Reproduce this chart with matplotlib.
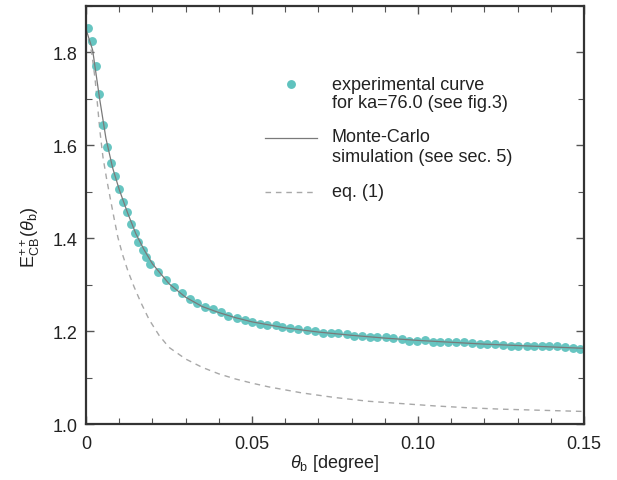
import matplotlib
matplotlib.use("Agg")
import matplotlib.pyplot as plt
from matplotlib.ticker import MultipleLocator

plt.rcParams['font.family'] = ['Liberation Sans', 'DejaVu Sans']
plt.rcParams['mathtext.fontset'] = 'custom'
plt.rcParams['mathtext.rm'] = 'Liberation Sans'
plt.rcParams['mathtext.it'] = 'Liberation Sans:italic'

# experimental curve (ka = 76.0)
exp_x = [0.0006, 0.0018, 0.0029, 0.0039, 0.0052, 0.0063, 0.0075, 0.0088, 0.0099, 0.0112,
         0.0123, 0.0137, 0.0147, 0.0157, 0.0172, 0.0182, 0.0193, 0.0217, 0.0242, 0.0265,
         0.0288, 0.0312, 0.0335, 0.0358, 0.0383, 0.0406, 0.0429, 0.0454, 0.0478, 0.0501,
         0.0523, 0.0546, 0.0571, 0.0591, 0.0614, 0.0639, 0.0665, 0.0690, 0.0715, 0.0737,
         0.0760, 0.0785, 0.0807, 0.0830, 0.0855, 0.0877, 0.0904, 0.0926, 0.0951, 0.0974,
         0.0996, 0.1021, 0.1044, 0.1066, 0.1091, 0.1114, 0.1139, 0.1162, 0.1187, 0.1209,
         0.1232, 0.1257, 0.1279, 0.1302, 0.1327, 0.1349, 0.1373, 0.1395, 0.1420, 0.1443,
         0.1466, 0.1488]
exp_y = [1.852, 1.824, 1.770, 1.710, 1.644, 1.597, 1.563, 1.534, 1.506, 1.477,
         1.457, 1.430, 1.411, 1.391, 1.375, 1.359, 1.345, 1.327, 1.311, 1.296,
         1.283, 1.270, 1.260, 1.251, 1.247, 1.242, 1.232, 1.228, 1.225, 1.219,
         1.215, 1.214, 1.214, 1.208, 1.206, 1.204, 1.203, 1.200, 1.197, 1.196,
         1.196, 1.193, 1.190, 1.190, 1.188, 1.187, 1.188, 1.186, 1.184, 1.179,
         1.179, 1.181, 1.177, 1.176, 1.176, 1.176, 1.176, 1.174, 1.173, 1.173,
         1.173, 1.171, 1.168, 1.168, 1.168, 1.168, 1.167, 1.167, 1.167, 1.166,
         1.164, 1.161]

# Monte-Carlo simulation
mc_x = [0.0, 0.002, 0.004, 0.006, 0.008, 0.010, 0.0125, 0.015, 0.0175, 0.020,
        0.025, 0.030, 0.035, 0.040, 0.045, 0.050, 0.060, 0.070, 0.080, 0.090,
        0.100, 0.110, 0.120, 0.130, 0.140, 0.150]
mc_y = [1.850, 1.805, 1.705, 1.615, 1.552, 1.505, 1.455, 1.410, 1.375, 1.345,
        1.302, 1.273, 1.253, 1.240, 1.229, 1.220, 1.207, 1.198, 1.191, 1.185,
        1.180, 1.176, 1.172, 1.169, 1.166, 1.163]

# eq. (1)
eq_x = [0.0, 0.0017, 0.0027, 0.0033, 0.0042, 0.0051, 0.0062, 0.0072, 0.0084, 0.0096,
        0.0110, 0.0126, 0.0145, 0.0165, 0.0190, 0.0220, 0.0250, 0.0300, 0.0350, 0.0400,
        0.0450, 0.0500, 0.0550, 0.0650, 0.0750, 0.0850, 0.0950, 0.1050, 0.1150, 0.1250,
        0.1350, 0.1500]
eq_y = [1.850, 1.800, 1.745, 1.700, 1.630, 1.575, 1.528, 1.490, 1.445, 1.402,
        1.365, 1.330, 1.295, 1.262, 1.225, 1.191, 1.165, 1.140, 1.122, 1.108,
        1.097, 1.088, 1.080, 1.067, 1.057, 1.049, 1.044, 1.039, 1.035, 1.032,
        1.030, 1.027]

fig = plt.figure(figsize=(6.17, 4.81), dpi=100)
ax = fig.add_axes([0.1394, 0.1164, 0.8071, 0.869])

teal = '#5fc2be'
ax.plot(eq_x, eq_y, color='#a8a8a8', lw=1.0, dashes=(4, 3.5))
ax.plot(exp_x, exp_y, 'o', color=teal, ms=6.4, mec='none', alpha=0.95)
ax.plot(mc_x, mc_y, color='#7a7a7a', lw=0.9)

ax.set_xlim(0, 0.15)
ax.set_ylim(1.0, 1.9)
ax.xaxis.set_minor_locator(MultipleLocator(0.01))
ax.yaxis.set_minor_locator(MultipleLocator(0.1))
ax.set_xticks([0, 0.05, 0.10, 0.15])
ax.set_xticklabels(['0', '0.05', '0.10', '0.15'])
ax.set_yticks([1.0, 1.2, 1.4, 1.6, 1.8])
ax.set_yticklabels(['1.0', '1.2', '1.4', '1.6', '1.8'])

ax.tick_params(which='both', direction='in', top=True, right=True, color='#555555',
               labelsize=13, labelcolor='#222222')
ax.tick_params(which='major', length=6, width=1)
ax.tick_params(which='minor', length=4, width=0.8)
ax.tick_params(axis='x', pad=8)
ax.tick_params(axis='y', pad=6)
for s in ax.spines.values():
    s.set_linewidth(1.6)
    s.set_color('#333333')

ax.set_xlabel(r'$\theta_{\rm b}$ [degree]', fontsize=13, color='#222222')
ax.xaxis.set_label_coords(0.5, -0.068)
ax.set_ylabel(r'$\mathrm{E}^{++}_{\rm CB}(\theta_{\rm b})$', fontsize=13, color='#222222')
ax.yaxis.set_label_coords(-0.088, 0.45)

# legend drawn by hand so handles sit on the first text line
ax.plot([0.411], [0.813], 'o', color=teal, ms=6.4, mec='none', transform=ax.transAxes)
ax.plot([0.359, 0.463], [0.684, 0.684], color='#7a7a7a', lw=0.9, transform=ax.transAxes)
ax.plot([0.359, 0.456], [0.556, 0.556], color='#a8a8a8', lw=1.0, dashes=(4, 3.5),
        transform=ax.transAxes)
lines = [('experimental curve', 0.813), ('for ka=76.0 (see fig.3)', 0.768),
         ('Monte-Carlo', 0.687), ('simulation (see sec. 5)', 0.641), ('eq. (1)', 0.557)]
for txt, yy in lines:
    ax.text(0.493, yy, txt, transform=ax.transAxes, fontsize=13, va='center',
            color='#222222')

fig.savefig('out.png', dpi=100)
